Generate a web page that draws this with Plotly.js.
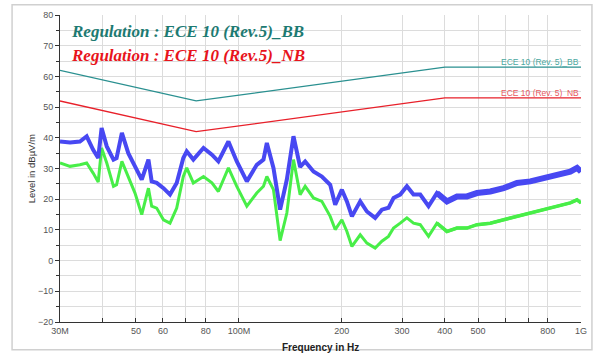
<!DOCTYPE html>
<html>
<head>
<meta charset="utf-8">
<script src="https://cdn.plot.ly/plotly-3.0.1.min.js"></script>
<style>html,body{margin:0;padding:0;background:#fff;}#chart{width:598px;height:354px;}</style>
</head>
<body>
<div id="chart"></div>
<script>
// Frequency in MHz
const freqMHz = [30.0,32.1,34.3,35.9,37.5,38.8,39.7,41.1,43.0,43.9,45.5,47.5,49.7,52.0,54.4,55.6,57.5,60.2,62.9,65.8,68.8,70.4,73.6,78.8,83.4,87.1,93.2,98.6,105.5,112.8,118.0,120.7,126.2,132.0,138.1,144.4,151.0,156.2,165.2,174.8,184.9,191.2,200.0,206.9,214.0,226.3,236.7,250.2,261.8,273.7,283.2,296.2,309.8,323.9,338.9,358.4,379.2,405.6,434.0,464.1,496.6,543.0,594.0,650.0,711.0,777.7,851.0,930.4,973.6,1000];
const blueLevel = [38.8,38.5,38.8,40.5,36.1,33.4,43.2,37.2,32.9,33.4,41.6,35.0,30.7,26.4,32.9,25.8,25.3,23.6,21.5,25.3,33.4,35.6,32.9,36.7,34.5,32.3,38.8,32.3,25.8,31.2,32.9,38.3,30.2,16.6,26.4,40.5,30.5,32.3,29.0,27.4,24.7,18.2,23.1,19.3,14.4,19.3,16.0,13.9,16.6,17.2,20.4,21.5,24.2,21.5,21.5,17.7,22.0,19.3,20.9,20.9,22.0,22.5,23.6,25.3,25.8,26.9,28.0,29.0,30.2,29.0];
const greenLevel = [31.8,30.7,31.2,31.8,28.5,25.6,36.7,31.8,24.2,24.7,32.3,27.4,22.0,15.0,23.6,17.7,17.1,13.3,12.2,17.1,27.4,30.2,25.3,27.4,25.3,22.5,30.2,24.2,17.7,22.0,24.2,27.4,23.1,6.5,15.5,32.9,21.5,24.2,20.4,19.3,14.4,10.1,13.3,9.5,4.6,8.4,5.7,4.1,6.3,7.9,10.6,12.2,13.9,12.2,11.7,7.9,12.2,9.5,10.6,10.6,11.7,12.2,13.3,14.4,15.5,16.6,17.7,18.8,19.8,18.8];
// Limit lines
const limitFreqMHz = [30, 75, 400, 1000];
const limitBB = [62, 52, 63, 63];
const limitNB = [52, 42, 53, 53];
// Axis ticks
const xTickMHz = [30,40,50,60,70,80,100,200,300,400,500,600,700,800,1000];
const xTickText = ["30M","","50","60","","80","100M","200","300","400","500","","","800","1G"];

const hz = a => a.map(v => v * 1e6);
// the noise band is wider above ~380 MHz, so that part is drawn heavier
const hiIdx = freqMHz.map((f,i)=>f>=379?i:-1).filter(i=>i>=0);
const pick = (arr) => hiIdx.map(i=>arr[i]);

const BLUE = '#4848f2', GREEN = '#48ee48';
const traces = [
  {x: hz(freqMHz), y: greenLevel, type:'scatter', mode:'lines', line:{color:GREEN, width:3}, hoverinfo:'skip'},
  {x: hz(pick(freqMHz)), y: pick(greenLevel), type:'scatter', mode:'lines', line:{color:GREEN, width:3.5}, hoverinfo:'skip'},
  {x: hz(freqMHz), y: blueLevel, type:'scatter', mode:'lines', line:{color:BLUE, width:4}, hoverinfo:'skip'},
  {x: hz(pick(freqMHz)), y: pick(blueLevel), type:'scatter', mode:'lines', line:{color:BLUE, width:6}, hoverinfo:'skip'},
  {x: hz(limitFreqMHz), y: limitBB, type:'scatter', mode:'lines', line:{color:'#2a9090', width:1.3}},
  {x: hz(limitFreqMHz), y: limitNB, type:'scatter', mode:'lines', line:{color:'#e8202a', width:1.3}}
];

const tickFont = {family:'Liberation Sans, Arial, sans-serif', size:9, color:'#555'};
const layout = {
  width:598, height:354,
  margin:{l:60, r:17, t:15, b:32},
  paper_bgcolor:'#fff', plot_bgcolor:'#fff',
  showlegend:false,
  xaxis:{
    type:'log',
    range:[Math.log10(30e6), Math.log10(1e9)],
    tickmode:'array', tickvals: hz(xTickMHz), ticktext: xTickText,
    ticks:'inside', ticklen:4, tickcolor:'#333',
    showgrid:true, gridcolor:'#dcdcdc', gridwidth:1,
    showline:true, linecolor:'#333', linewidth:1,
    tickfont: tickFont, zeroline:false
  },
  yaxis:{
    range:[-20, 80], dtick:10, tick0:0,
    ticks:'outside', ticklen:4, tickcolor:'#333',
    showgrid:true, gridcolor:'#dcdcdc', gridwidth:1,
    minor:{dtick:5, showgrid:true, gridcolor:'#dcdcdc', ticks:'outside', ticklen:3, tickcolor:'#333'},
    showline:true, linecolor:'#333', linewidth:1,
    tickfont: tickFont, zeroline:false
  },
  shapes:[
    {type:'rect', xref:'paper', yref:'paper', x0:-0.092, x1:1.021, y0:-0.090, y1:1.033, line:{color:'#d0d0d0', width:1.5}, fillcolor:'rgba(0,0,0,0)', layer:'below'}
  ],
  annotations:[
    {xref:'paper', yref:'paper', x:0.018, y:0.947, xanchor:'left', yanchor:'middle', showarrow:false,
     text:'<b><i>Regulation : ECE 10 (Rev.5)_BB</i></b>', font:{family:'Liberation Serif, Times New Roman, serif', size:17, color:'#1d7a72'}},
    {xref:'paper', yref:'paper', x:0.018, y:0.867, xanchor:'left', yanchor:'middle', showarrow:false,
     text:'<b><i>Regulation : ECE 10 (Rev.5)_NB</i></b>', font:{family:'Liberation Serif, Times New Roman, serif', size:17, color:'#e8141c'}},
    {xref:'paper', yref:'y', x:1.0, y:63, xanchor:'right', yanchor:'bottom', showarrow:false, yshift:-2,
     text:'ECE 10 (Rev. 5)_BB', font:{family:'Liberation Sans, Arial, sans-serif', size:8.5, color:'#4aa8a0'}},
    {xref:'paper', yref:'y', x:1.0, y:53, xanchor:'right', yanchor:'bottom', showarrow:false, yshift:-2,
     text:'ECE 10 (Rev. 5)_NB', font:{family:'Liberation Sans, Arial, sans-serif', size:8.5, color:'#e85a5f'}},
    {xref:'paper', yref:'paper', x:0.5, y:-0.082, xanchor:'center', yanchor:'middle', showarrow:false,
     text:'<b>Frequency in Hz</b>', font:{family:'Liberation Sans, Arial, sans-serif', size:10, color:'#222'}},
    {xref:'paper', yref:'paper', x:-0.054, y:0.5, xanchor:'center', yanchor:'middle', showarrow:false, textangle:-90,
     text:'Level in dBµV/m', font:{family:'Liberation Sans, Arial, sans-serif', size:9.5, color:'#333'}}
  ]
};
Plotly.newPlot('chart', traces, layout, {staticPlot:true, displayModeBar:false});
</script>
</body>
</html>
